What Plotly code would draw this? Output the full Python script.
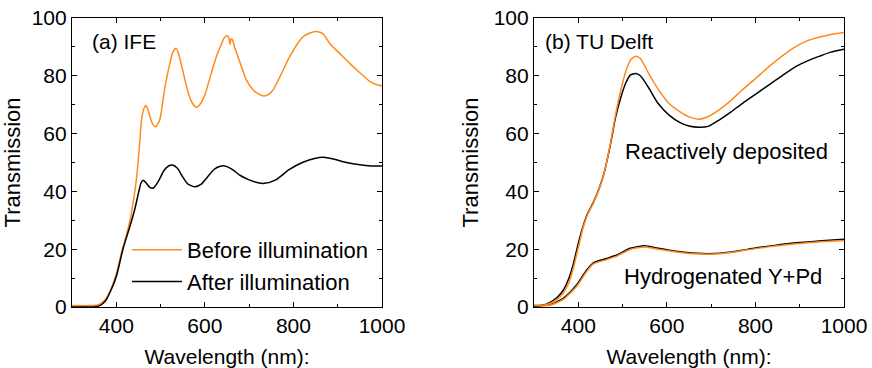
import plotly.graph_objects as go

# ---------------- data ----------------
# Panel (a) IFE
a_before_nm = [300, 340, 360, 375, 390, 401, 412, 423, 431, 440, 446, 452, 457, 462, 467, 471, 476, 482, 489,
               498, 510, 521, 528, 535, 541, 548, 556, 563, 572, 581, 590, 600, 610, 619, 628, 638, 644, 649,
               653, 655, 657, 659, 662, 666, 672, 683, 694, 709, 720, 732, 743, 754, 765, 777, 788, 800, 811,
               822, 837, 852, 867, 882, 897, 912, 927, 943, 958, 973, 987, 1000]
a_before_T = [0.5, 0.5, 0.8, 2.5, 7, 12, 19, 25, 30, 38, 45, 55, 64.7, 68.5, 69.7, 68.5, 65.9, 63.3, 62.4,
              64.7, 76.2, 84.3, 88.3, 89.5, 87.5, 83.2, 78, 73.9, 70.5, 69.1, 70.3, 73.4, 78.5, 83.2, 87.5, 91.2, 93.2, 93.9,
              93.5, 92.5, 90.8, 92.8, 92.6, 90.5, 87.8, 83, 78.5, 75.1, 73.8, 73, 73.5, 75.1, 78.3, 82, 85.6, 88.9, 91.5,
              93.5, 94.8, 95.3, 94.5, 91.2, 88.8, 86.6, 84.3, 82, 80, 78, 77, 76.5]

a_after_nm = [300, 340, 360, 375, 390, 401, 415, 431, 442, 451, 456, 461, 467, 475, 483, 495, 508, 518, 527,
              538, 550, 562, 578, 592, 606, 620, 633, 645, 660, 680, 700, 720, 735, 760, 790, 820, 850, 868, 890,
              920, 950, 975, 1000]
a_after_T = [0, 0, 0.3, 2, 6.5, 11, 20, 28, 34, 40, 43, 43.9, 43, 41.5, 41.1, 43.5, 47.3, 48.8, 49.1,
             48, 45, 42.5, 41.6, 42.5, 45, 47.5, 48.6, 48.8, 47.8, 45.5, 44, 43, 42.8, 44, 47.5, 50, 51.5, 51.8, 51.2,
             50, 49.2, 48.8, 48.8]

# Panel (b) TU Delft - reactively deposited
b_react_nm = [300, 320, 336, 352, 366, 379, 389, 400, 411, 421, 434, 449, 460, 473, 484, 496,
              507, 518, 530, 540, 550, 560, 580, 605, 630, 650, 673, 695, 718, 745, 770, 800, 830, 860,
              890, 915, 945, 970, 1000]
b_react_before = [0.5, 0.6, 1.2, 2.6, 4.7, 8.5, 13.5, 20.5, 27.5, 32, 36, 41.6, 47.4, 57, 66.5, 75,
                  81.4, 85.5, 86.8, 86, 83.5, 80.5, 75.5, 70.4, 67.5, 65.8, 65, 66, 68.2, 71.5, 75.1, 79, 83.1, 86.8,
                  90, 92, 93.4, 94.3, 95]
b_react_after = [0.3, 0.6, 1.6, 3.3, 5.8, 10, 15, 22, 28, 32.3, 36.2, 41.8, 47.4, 56.5, 65.5, 72.5,
                 77.4, 80.3, 80.8, 80, 78, 75.6, 70.5, 66.4, 63.8, 62.6, 62.2, 62.6, 64.7, 67.5, 70.4, 73.6, 76.8, 80,
                 83.1, 85, 86.8, 88.2, 89.2]

# Panel (b) TU Delft - hydrogenated Y+Pd
b_hyd_nm = [300, 336, 366, 396, 419, 434, 464, 487, 517, 550, 577, 630, 680, 720, 760, 800,
            850, 900, 950, 1000]
b_hyd_before = [0.3, 0.6, 2.6, 7.1, 12.3, 14.9, 16.4, 17.6, 19.9, 20.8, 20.1, 18.9, 18.3, 18.4, 19.2, 20.2,
                21.2, 22, 22.6, 23]
b_hyd_after = [0.5, 0.8, 3, 7.6, 12.8, 15.3, 16.8, 18, 20.3, 21.2, 20.4, 19.1, 18.5, 18.6, 19.4, 20.4,
               21.5, 22.3, 22.9, 23.4]

x_ticks = [400, 600, 800, 1000]
y_ticks = [0, 20, 40, 60, 80, 100]

ORANGE = "#ff8a1c"
BLACK = "#000000"
FONT = "Liberation Sans, Arial, sans-serif"

fig = go.Figure()

def add(x, y, color, name, xa, ya, show):
    fig.add_trace(go.Scatter(x=x, y=y, mode="lines", name=name, showlegend=show,
                             line=dict(color=color, width=1.5, shape="spline", smoothing=0.6),
                             xaxis=xa, yaxis=ya))

add(a_before_nm, a_before_T, ORANGE, "Before illumination", "x", "y", True)
add(a_after_nm, a_after_T, BLACK, "After illumination", "x", "y", True)
add(b_hyd_nm, b_hyd_after, BLACK, "Hydrogenated Y+Pd (after)", "x2", "y2", False)
add(b_hyd_nm, b_hyd_before, ORANGE, "Hydrogenated Y+Pd (before)", "x2", "y2", False)
add(b_react_nm, b_react_after, BLACK, "Reactively deposited (after)", "x2", "y2", False)
add(b_react_nm, b_react_before, ORANGE, "Reactively deposited (before)", "x2", "y2", False)

W, H = 872, 368
ybot, ytop = 307, 18
dom_y = [(H - ybot) / H, (H - ytop) / H]

def xaxis(dom):
    return dict(domain=dom, range=[300, 1000], tickvals=x_ticks, ticktext=[str(v) for v in x_ticks],
                ticks="inside", ticklen=5, tickwidth=1, tickcolor="black",
                minor=dict(tickvals=[500, 700, 900], ticks="inside", ticklen=3, tickcolor="black"),
                showline=True, linecolor="black", linewidth=1.2, mirror="ticks",
                showgrid=False, zeroline=False, automargin=False,
                tickfont=dict(family=FONT, size=21, color="black"),
                title=dict(text="Wavelength (nm):", font=dict(family=FONT, size=21, color="black"), standoff=13))

def yaxis(dom, anchor):
    return dict(domain=dom, range=[0, 100], tickvals=y_ticks, ticktext=[str(v) for v in y_ticks],
                ticks="inside", ticklen=5, tickwidth=1, tickcolor="black",
                minor=dict(tickvals=[10, 30, 50, 70, 90], ticks="inside", ticklen=3, tickcolor="black"),
                showline=True, linecolor="black", linewidth=1.2, mirror="ticks",
                showgrid=False, zeroline=False, anchor=anchor, automargin=False,
                tickfont=dict(family=FONT, size=21, color="black"),
                title=dict(text="Transmission", font=dict(family=FONT, size=22, color="black"), standoff=8))

fig.update_layout(
    width=W, height=H, margin=dict(l=0, r=0, t=0, b=0),
    paper_bgcolor="white", plot_bgcolor="white",
    font=dict(family=FONT, color="black"),
    xaxis=dict(**xaxis([72 / W, 382 / W]), anchor="y"),
    yaxis=yaxis(dom_y, "x"),
    xaxis2=dict(**xaxis([534 / W, 844 / W]), anchor="y2"),
    yaxis2=yaxis(dom_y, "x2"),
    legend=dict(x=127 / W, y=(H - 229) / H, xanchor="left", yanchor="top",
                bgcolor="rgba(0,0,0,0)", font=dict(family=FONT, size=22, color="black"),
                itemwidth=50, tracegroupgap=0),
    annotations=[
        dict(text="(a) IFE", x=90 / W, y=(H - 42) / H, xref="paper", yref="paper",
             xanchor="left", yanchor="middle", showarrow=False, font=dict(family=FONT, size=21, color="black")),
        dict(text="(b) TU Delft", x=543 / W, y=(H - 42) / H, xref="paper", yref="paper",
             xanchor="left", yanchor="middle", showarrow=False, font=dict(family=FONT, size=21, color="black")),
        dict(text="Reactively deposited", x=623 / W, y=(H - 152) / H, xref="paper", yref="paper",
             xanchor="left", yanchor="middle", showarrow=False, font=dict(family=FONT, size=22, color="black")),
        dict(text="Hydrogenated Y+Pd", x=622 / W, y=(H - 276) / H, xref="paper", yref="paper",
             xanchor="left", yanchor="middle", showarrow=False, font=dict(family=FONT, size=22, color="black")),
    ],
)

fig.write_html("out.html")
